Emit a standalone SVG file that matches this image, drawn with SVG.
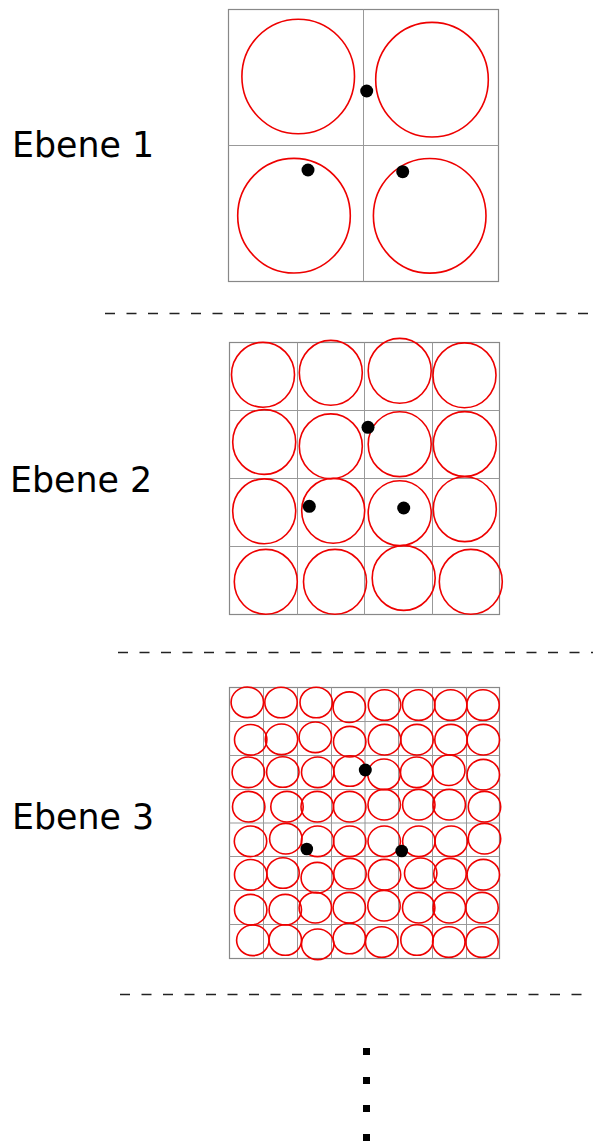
<svg xmlns="http://www.w3.org/2000/svg" width="593" height="1142" viewBox="0 0 593 1142">
  <style>
    .label { font-family: "DejaVu Sans", Verdana, sans-serif; font-size: 34.8px; fill: #000; }
    .frame { fill: none; stroke: #888; stroke-width: 1.2; }
    .grid { fill: none; stroke: #999; stroke-width: 1; }
    .ring { fill: none; stroke: #e00; stroke-width: 1.6; }
    .dot { fill: #000; }
    .sep { stroke: #222; stroke-width: 1.4; stroke-dasharray: 10 11.5; }
  </style>
  <defs>
    <ellipse id="r1" class="ring" cx="0" cy="0" rx="56.3" ry="57.3"/>
    <ellipse id="r2" class="ring" cx="0" cy="0" rx="31.5" ry="32.4"/>
    <ellipse id="r3" class="ring" cx="0" cy="0" rx="16.2" ry="15.3"/>
  </defs>

  <rect width="593" height="1142" fill="#fff"/>

  <!-- level 1: 2x2 -->
  <g id="ebene1">
    <text class="label" x="12" y="157">Ebene 1</text>
    <rect class="frame" x="228.5" y="9.5" width="270" height="272"/>
    <path class="grid" d="M363.5 9.5V281.5M228.5 145.5H498.5"/>
    <use href="#r1" x="298.2" y="76.5"/>
    <use href="#r1" x="432" y="79.7"/>
    <use href="#r1" x="294" y="215.7"/>
    <use href="#r1" x="429.7" y="215.8"/>
    <circle class="dot" cx="366.7" cy="91" r="6.5"/>
    <circle class="dot" cx="308" cy="170" r="6.5"/>
    <circle class="dot" cx="402.7" cy="171.7" r="6.5"/>
  </g>

  <!-- level 2: 4x4 -->
  <g id="ebene2">
    <text class="label" x="10" y="492">Ebene 2</text>
    <rect class="frame" x="229.5" y="342.5" width="270" height="272"/>
    <path class="grid" d="M297.5 342.5V614.5M364.5 342.5V614.5M432.5 342.5V614.5M229.5 410.5H499.5M229.5 478.5H499.5M229.5 546.5H499.5"/>
    <use href="#r2" x="263" y="374.8"/>
    <use href="#r2" x="330.8" y="372.8"/>
    <use href="#r2" x="399.7" y="370.8"/>
    <use href="#r2" x="464.5" y="375.3"/>
    <use href="#r2" x="264.2" y="442"/>
    <use href="#r2" x="330.8" y="446.3"/>
    <use href="#r2" x="399.7" y="444.2"/>
    <use href="#r2" x="464.8" y="444"/>
    <use href="#r2" x="264.2" y="511.3"/>
    <use href="#r2" x="333.2" y="510.8"/>
    <use href="#r2" x="399.7" y="513.2"/>
    <use href="#r2" x="464.8" y="509.2"/>
    <use href="#r2" x="265.8" y="581.8"/>
    <use href="#r2" x="335" y="581.8"/>
    <use href="#r2" x="403.7" y="578"/>
    <use href="#r2" x="470.8" y="581.8"/>
    <circle class="dot" cx="368" cy="427.3" r="6.5"/>
    <circle class="dot" cx="309.3" cy="506.3" r="6.5"/>
    <circle class="dot" cx="403.7" cy="508" r="6.5"/>
  </g>

  <!-- level 3: 8x8 -->
  <g id="ebene3">
    <text class="label" x="12" y="829">Ebene 3</text>
    <rect class="frame" x="229.5" y="687.5" width="270" height="271"/>
    <path class="grid" d="M263.5 687.5V958.5M297.5 687.5V958.5M331.5 687.5V958.5M365 687.5V958.5M398.5 687.5V958.5M432.5 687.5V958.5M466.5 687.5V958.5M229.5 721.5H499.5M229.5 755.5H499.5M229.5 789.5H499.5M229.5 823H499.5M229.5 856.5H499.5M229.5 890.5H499.5M229.5 924.5H499.5"/>
    <use href="#r3" x="247.3" y="702.3"/>
    <use href="#r3" x="281" y="702.5"/>
    <use href="#r3" x="316.2" y="702.5"/>
    <use href="#r3" x="349.3" y="707.2"/>
    <use href="#r3" x="384.5" y="705"/>
    <use href="#r3" x="418.7" y="705"/>
    <use href="#r3" x="450.7" y="705"/>
    <use href="#r3" x="483" y="705"/>

    <use href="#r3" x="250.7" y="739.8"/>
    <use href="#r3" x="281.5" y="739.3"/>
    <use href="#r3" x="315.3" y="737.3"/>
    <use href="#r3" x="349.7" y="741.7"/>
    <use href="#r3" x="384.5" y="739.7"/>
    <use href="#r3" x="417" y="739.7"/>
    <use href="#r3" x="451" y="739.7"/>
    <use href="#r3" x="483.3" y="739.7"/>

    <use href="#r3" x="248.3" y="772.3"/>
    <use href="#r3" x="282.8" y="772"/>
    <use href="#r3" x="317.7" y="772.3"/>
    <use href="#r3" x="350" y="771"/>
    <use href="#r3" x="384" y="774.3"/>
    <use href="#r3" x="416.7" y="772.3"/>
    <use href="#r3" x="448.8" y="770.2"/>
    <use href="#r3" x="483.3" y="774.7"/>

    <use href="#r3" x="248.7" y="806.7"/>
    <use href="#r3" x="287" y="806.7"/>
    <use href="#r3" x="317.2" y="806.7"/>
    <use href="#r3" x="349.7" y="806.7"/>
    <use href="#r3" x="384.2" y="804.7"/>
    <use href="#r3" x="418.8" y="804.7"/>
    <use href="#r3" x="449.2" y="804.7"/>
    <use href="#r3" x="484.5" y="806.7"/>

    <use href="#r3" x="250.5" y="841.3"/>
    <use href="#r3" x="285.8" y="838.7"/>
    <use href="#r3" x="317.5" y="841.3"/>
    <use href="#r3" x="349.7" y="841.3"/>
    <use href="#r3" x="384.2" y="841.3"/>
    <use href="#r3" x="418.8" y="841.3"/>
    <use href="#r3" x="451.2" y="841.3"/>
    <use href="#r3" x="484.5" y="838.7"/>

    <use href="#r3" x="250.7" y="874.8"/>
    <use href="#r3" x="283" y="873"/>
    <use href="#r3" x="317.3" y="877.7"/>
    <use href="#r3" x="350" y="873.7"/>
    <use href="#r3" x="384.5" y="874.7"/>
    <use href="#r3" x="420.7" y="873.3"/>
    <use href="#r3" x="450" y="873.7"/>
    <use href="#r3" x="483.3" y="874.7"/>

    <use href="#r3" x="250.7" y="909.7"/>
    <use href="#r3" x="285.3" y="909.7"/>
    <use href="#r3" x="315.3" y="907.7"/>
    <use href="#r3" x="349.3" y="907.7"/>
    <use href="#r3" x="384" y="905.7"/>
    <use href="#r3" x="418.7" y="907.7"/>
    <use href="#r3" x="449.3" y="907.7"/>
    <use href="#r3" x="482" y="907.7"/>

    <use href="#r3" x="252.8" y="940.3"/>
    <use href="#r3" x="285.3" y="940"/>
    <use href="#r3" x="317.7" y="944.3"/>
    <use href="#r3" x="349.3" y="938.5"/>
    <use href="#r3" x="381.7" y="942"/>
    <use href="#r3" x="417" y="940"/>
    <use href="#r3" x="448.8" y="942"/>
    <use href="#r3" x="482" y="942"/>

    <circle class="dot" cx="365.3" cy="770" r="6.5"/>
    <circle class="dot" cx="306.8" cy="849" r="6.3"/>
    <circle class="dot" cx="401.7" cy="851" r="6.3"/>
  </g>

  <!-- separators between levels -->
  <g id="separators">
    <line class="sep" x1="105" y1="313.5" x2="590" y2="313.5"/>
    <line class="sep" x1="118" y1="652.5" x2="593" y2="652.5"/>
    <line class="sep" x1="120" y1="994.5" x2="583" y2="994.5"/>
  </g>

  <!-- continuation marks -->
  <g id="ellipsis">
    <rect class="dot" x="363" y="1048" width="7" height="7"/>
    <rect class="dot" x="363" y="1077" width="7" height="7"/>
    <rect class="dot" x="363" y="1105" width="7" height="7"/>
    <rect class="dot" x="363" y="1134" width="7" height="7"/>
  </g>
</svg>
